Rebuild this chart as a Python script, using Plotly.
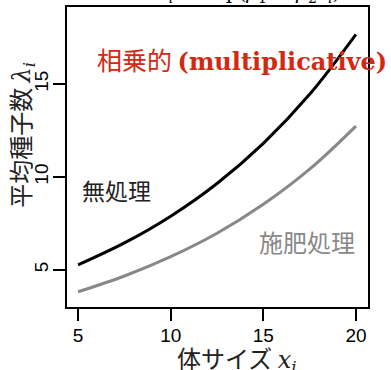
import plotly.graph_objects as go

# Values
x_vals = [5, 7.5, 10, 12.5, 15, 17.5, 20]
control = [5.27, 6.45, 7.89, 9.65, 11.81, 14.45, 17.68]      # 無処理
fertilized = [3.82, 4.67, 5.71, 6.97, 8.53, 10.42, 12.74]    # 施肥処理
x_ticks = [5, 10, 15, 20]
y_ticks = [5, 10, 15]

JP = "Noto Sans CJK JP"
SANS = "Liberation Sans"
SERIF = "DejaVu Serif"

fig = go.Figure()
fig.add_trace(go.Scatter(x=x_vals, y=control, mode="lines",
                         line=dict(color="black", width=3, shape="spline"),
                         showlegend=False, hoverinfo="skip"))
fig.add_trace(go.Scatter(x=x_vals, y=fertilized, mode="lines",
                         line=dict(color="#888888", width=3, shape="spline"),
                         showlegend=False, hoverinfo="skip"))

fig.update_layout(
    template="none",
    width=391, height=370,
    margin=dict(l=67, r=23, t=7, b=63, autoexpand=False),
    plot_bgcolor="white", paper_bgcolor="white",
    font=dict(family=SANS, size=18, color="black"),
    xaxis=dict(range=[4.4, 20.65], tickvals=x_ticks, ticks="outside", ticklen=12,
               tickwidth=1.5, tickcolor="black", showline=True, linecolor="black",
               linewidth=1.5, mirror=True, showgrid=False, zeroline=False,
               automargin=False, ticklabelstandoff=-2,
               tickfont=dict(family=SANS, size=19)),
    yaxis=dict(range=[3.0, 19.15], tickvals=y_ticks, ticks="outside", ticklen=12,
               tickwidth=1.5, tickcolor="black", showline=True, linecolor="black",
               linewidth=1.5, mirror=True, showgrid=False, zeroline=False,
               automargin=False, tickangle=-90, ticklabelstandoff=-2,
               tickfont=dict(family=SANS, size=19)),
)

# axis titles
fig.add_annotation(xref="paper", yref="paper", x=0.565, y=-0.17, yanchor="middle",
                   xanchor="center", showarrow=False,
                   text=f"<span style='font-family:{JP}'>体サイズ </span>"
                        f"<span style='font-family:{SERIF}'><i>x</i><sub><i>i</i></sub></span>",
                   font=dict(size=24, family=JP, color="#222222"))
fig.add_annotation(xref="paper", yref="paper", x=-0.155, y=0.575, xanchor="center",
                   yanchor="middle", showarrow=False, textangle=-90,
                   text=f"<span style='font-family:{JP}'>平均種子数 </span>"
                        f"<span style='font-family:{SERIF}'><i>λ</i><sub><i>i</i></sub></span>",
                   font=dict(size=24, family=JP, color="#222222"))

# labels in the plot
fig.add_annotation(xref="x", yref="y", x=5.92, y=16.35, xanchor="left", yanchor="middle",
                   showarrow=False,
                   text=f"<span style='font-family:{JP};font-size:25px'>相乗的 </span>"
                        f"<span style='font-family:{SERIF}'><b>(multiplicative)</b></span>",
                   font=dict(size=24, family=JP, color="#d22a12"))
fig.add_annotation(xref="x", yref="y", x=5.1, y=9.3, xanchor="left", yanchor="middle",
                   showarrow=False, text="無処理",
                   font=dict(size=23, family=JP, color="#222222"))
fig.add_annotation(xref="x", yref="y", x=20.05, y=6.5, xanchor="right", yanchor="middle",
                   showarrow=False, text="施肥処理",
                   font=dict(size=24, family=JP, color="#888888"))

# title mostly cut off at the top
fig.add_annotation(xref="paper", yref="paper", x=0.6, y=1.0, yshift=-1, xanchor="center",
                   yanchor="bottom", showarrow=False,
                   text="<i>λ</i><sub><i>i</i></sub> = exp(<i>β</i><sub>1</sub> + <i>β</i><sub>2</sub><i>x</i><sub><i>i</i></sub>)",
                   font=dict(size=20, family=SERIF, color="black"))

fig.write_html("out.html", config={"displayModeBar": False},
               post_script="document.body.style.margin='0';")
